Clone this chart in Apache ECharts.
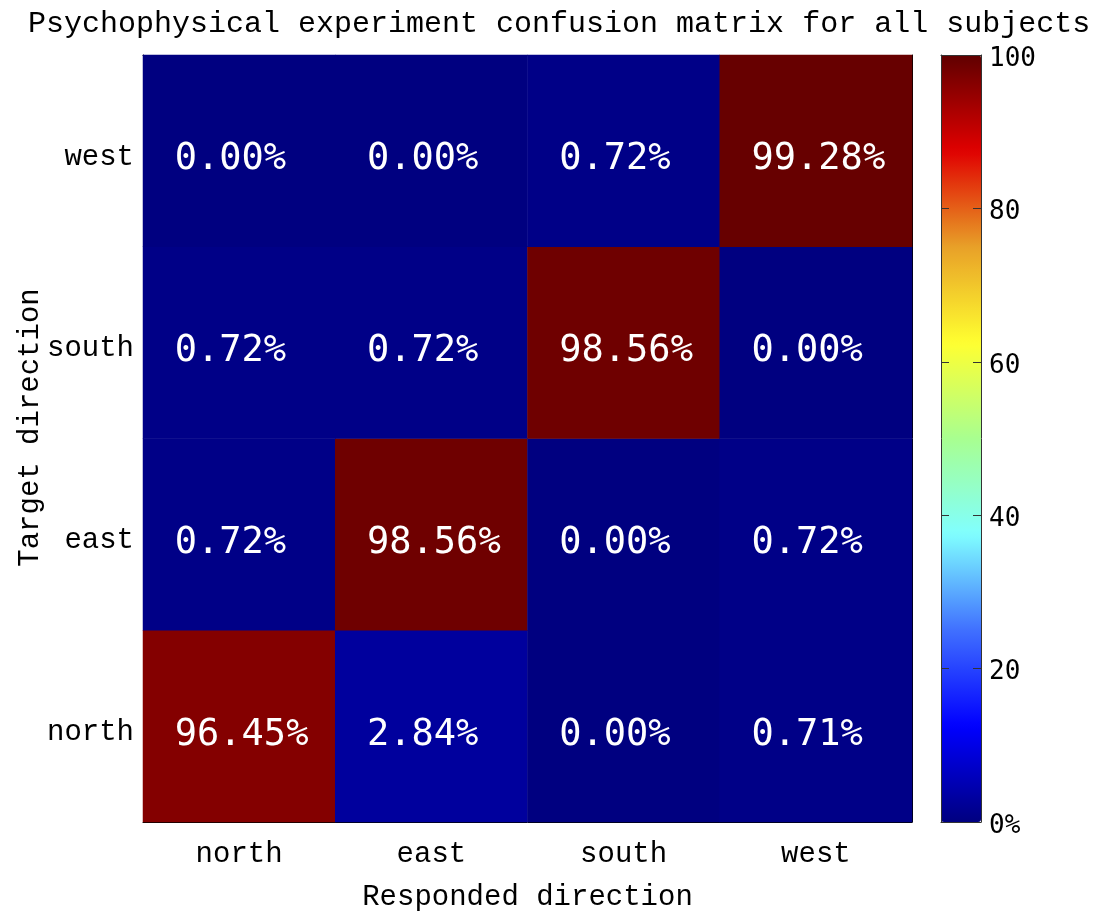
<!DOCTYPE html>
<html>
<head>
<meta charset="utf-8">
<script src="https://cdn.jsdelivr.net/npm/echarts@6/dist/echarts.min.js"></script>
<style>
html,body{margin:0;padding:0;background:#fff;}
#chart{width:1097px;height:913px;}
</style>
</head>
<body>
<div id="chart"></div>
<script>
// Responded direction (x) and target direction (y, bottom to top)
const respondedDirections = ['north', 'east', 'south', 'west'];
const targetDirections = ['north', 'east', 'south', 'west'];
// percentage values: one row per target direction, columns follow respondedDirections
const rowNorth = [96.45, 2.84, 0.00, 0.71];
const rowEast  = [0.72, 98.56, 0.00, 0.72];
const rowSouth = [0.72, 0.72, 98.56, 0.00];
const rowWest  = [0.00, 0.00, 0.72, 99.28];
const colorbarTicks = [0, 20, 40, 60, 80, 100];
const paletteColors = ['#000080', '#0000ff', '#4070ff', '#80ffff', '#a8ff90', '#ffff30', '#e8a028', '#e00000', '#600000'];

const rows = [rowNorth, rowEast, rowSouth, rowWest];
const cells = [];
rows.forEach((row, yi) => row.forEach((v, xi) => cells.push([xi, yi, v])));

const monoSerif = '"Courier New", "Liberation Mono", "DejaVu Sans Mono", monospace';
const monoSans = '"DejaVu Sans Mono", monospace';

const chart = echarts.init(document.getElementById('chart'));
const catAxisCommon = {
  type: 'category',
  axisLine: { show: true, lineStyle: { color: '#000', width: 1 } },
  axisTick: { show: true, inside: true, alignWithLabel: true, length: 8, lineStyle: { color: '#000' } },
  splitLine: { show: false }
};
chart.setOption({
  animation: false,
  backgroundColor: '#fff',
  title: {
    text: 'Psychophysical experiment confusion matrix for all subjects',
    left: 23, top: 4,
    textStyle: { fontFamily: monoSerif, fontSize: 30, fontWeight: 'normal', color: '#000' }
  },
  grid: [
    { left: 143, top: 55, width: 769, height: 767, containLabel: false, outerBoundsMode: 'none' },
    { left: 941, top: 55, width: 40, height: 767, containLabel: false, outerBoundsMode: 'none' }
  ],
  xAxis: [
    Object.assign({}, catAxisCommon, {
      gridIndex: 0, data: respondedDirections, position: 'bottom',
      axisLabel: { fontFamily: monoSerif, fontSize: 29, color: '#000', margin: 18 },
      name: 'Responded direction', nameLocation: 'middle', nameGap: 61,
      nameTextStyle: { fontFamily: monoSerif, fontSize: 29, color: '#000' }
    }),
    Object.assign({}, catAxisCommon, {
      gridIndex: 0, data: respondedDirections, position: 'top',
      axisLabel: { show: false }
    }),
    { type: 'value', gridIndex: 1, min: 0, max: 1, position: 'bottom', z: 10,
      axisLine: { show: true, onZero: false, lineStyle: { color: '#333' } },
      axisTick: { show: false }, axisLabel: { show: false }, splitLine: { show: false } },
    { type: 'value', gridIndex: 1, min: 0, max: 1, position: 'top', z: 10,
      axisLine: { show: true, onZero: false, lineStyle: { color: '#333' } },
      axisTick: { show: false }, axisLabel: { show: false }, splitLine: { show: false } }
  ],
  yAxis: [
    Object.assign({}, catAxisCommon, {
      gridIndex: 0, data: targetDirections, position: 'left',
      axisLabel: { margin: 9, formatter: v => '{t|' + v + '}',
        rich: { t: { fontFamily: monoSerif, fontSize: 29, color: '#000', padding: [12, 0, 0, 0] } } },
      name: 'Target direction', nameLocation: 'middle', nameGap: 98, nameRotate: 90,
      nameMoveOverlap: false,
      nameTextStyle: { fontFamily: monoSerif, fontSize: 29, color: '#000', padding: [0, 0, 0, 22] }
    }),
    Object.assign({}, catAxisCommon, {
      gridIndex: 0, data: targetDirections, position: 'right',
      axisLabel: { show: false }
    }),
    { type: 'value', gridIndex: 1, min: 0, max: 100, interval: 20, position: 'left', z: 10,
      axisLine: { show: true, onZero: false, lineStyle: { color: '#333' } },
      axisTick: { show: true, inside: true, length: 8, lineStyle: { color: '#333' } },
      axisLabel: { show: false }, splitLine: { show: false } },
    { type: 'value', gridIndex: 1, min: 0, max: 100, interval: 20, position: 'right', z: 10,
      axisLine: { show: true, onZero: false, lineStyle: { color: '#333' } },
      axisTick: { show: true, inside: true, length: 8, lineStyle: { color: '#333' } },
      axisLabel: { show: true, margin: 8,
        formatter: v => colorbarTicks.includes(v) ? '{c|' + (v === 0 ? '0%' : String(v)) + '}' : '',
        rich: { c: { fontFamily: monoSans, fontSize: 26, color: '#000', padding: [8, 0, 0, 0] } } },
      splitLine: { show: false } }
  ],
  visualMap: {
    type: 'continuous', min: 0, max: 100, show: true, calculable: false,
    orient: 'vertical', left: 941, top: 55, itemWidth: 40, itemHeight: 767,
    padding: 0, text: null, showLabel: false, seriesIndex: 0,
    inRange: { color: paletteColors }
  },
  series: [{
    type: 'heatmap', xAxisIndex: 0, yAxisIndex: 0,
    data: cells,
    label: {
      show: true, position: [32, '50%'], align: 'left', verticalAlign: 'middle',
      offset: [0, 9],
      color: '#fff', fontFamily: monoSans, fontSize: 37,
      formatter: p => p.value[2].toFixed(2) + '%'
    },
    itemStyle: { borderWidth: 0 }
  }]
});
</script>
</body>
</html>
